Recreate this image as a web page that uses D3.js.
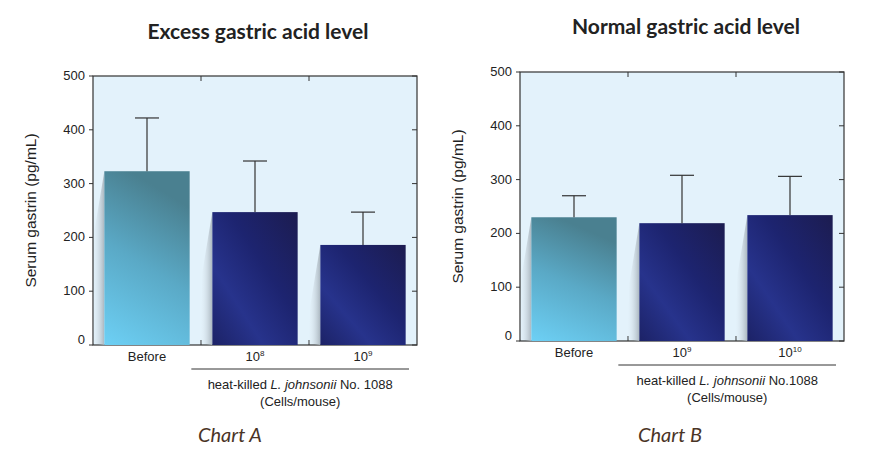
<!DOCTYPE html>
<html><head><meta charset="utf-8">
<script src="https://cdn.jsdelivr.net/npm/d3@7"></script>
<style>body{margin:0;background:#fff}svg{display:block}</style>
</head><body>
<svg id="c" width="876" height="468"></svg>
<script>
const yTicks = [0,100,200,300,400,500];
const catsA = ["Before","10^8","10^9"];
const meanA = [323,247,186];
const errA = [422,342,247];
const catsB = ["Before","10^9","10^10"];
const meanB = [230,219,234];
const errB = [270,308,306];
const titles = ["Excess gastric acid level","Normal gastric acid level"];
const chartLabels = ["Chart A","Chart B"];

const svg = d3.select("#c");
const defs = svg.append("defs");
const g1 = defs.append("linearGradient").attr("id","gBefore").attr("x1",0).attr("y1",1).attr("x2",0.3).attr("y2",0);
g1.append("stop").attr("offset",0).attr("stop-color","#6dd0f5");
g1.append("stop").attr("offset",0.55).attr("stop-color","#5aa9c6");
g1.append("stop").attr("offset",1).attr("stop-color","#4a8090");
const g2 = defs.append("linearGradient").attr("id","gDark").attr("x1",0).attr("y1",1).attr("x2",1).attr("y2",0);
g2.append("stop").attr("offset",0).attr("stop-color","#1c2266");
g2.append("stop").attr("offset",0.3).attr("stop-color","#27338c");
g2.append("stop").attr("offset",0.6).attr("stop-color","#1d2470");
g2.append("stop").attr("offset",1).attr("stop-color","#1c1c50");
const g3 = defs.append("linearGradient").attr("id","gShadow").attr("x1",0).attr("y1",0).attr("x2",1).attr("y2",0);
g3.append("stop").attr("offset",0).attr("stop-color","#dfeaf2").attr("stop-opacity",0);
g3.append("stop").attr("offset",1).attr("stop-color","#aab6bf").attr("stop-opacity",1);

const font = "'Liberation Sans Narrow','Liberation Sans',Arial,sans-serif";

function chart(o){
  const {x0,x1,y0,y1,cats,mean,err,title,titleX,titleY,lab,labX,scale} = o;
  const g = svg.append("g");
  const x = d3.scaleBand().domain(cats).range([x0,x1]).paddingInner(0.21).paddingOuter(0.105);
  const xb = d3.scaleBand().domain(cats).range([x0,x1]);
  const y = d3.scaleLinear().domain([0,500]).range([y1,y0]);
  g.append("rect").attr("x",x0).attr("y",y0).attr("width",x1-x0).attr("height",y1-y0)
    .attr("fill","#e3f2fb").attr("stroke","#333").attr("stroke-width",1.2);
  yTicks.forEach(t=>{
    g.append("line").attr("x1",x1-5).attr("x2",x1).attr("y1",y(t)).attr("y2",y(t)).attr("stroke","#333");
    g.append("line").attr("x1",x0-4).attr("x2",x0).attr("y1",y(t)).attr("y2",y(t)).attr("stroke","#333");
    g.append("text").attr("x",x0-8).attr("y",y(t)+ (t===0?-1:4)).attr("text-anchor","end")
      .attr("font-family",font).attr("font-size",13).attr("fill","#222").text(t);
  });
  cats.slice(1).forEach(c=>{
    const bx = xb(c);
    g.append("line").attr("x1",bx).attr("x2",bx).attr("y1",y0).attr("y2",y0+5).attr("stroke","#333");
    g.append("line").attr("x1",bx).attr("x2",bx).attr("y1",y1).attr("y2",y1-5).attr("stroke","#333");
  });
  cats.forEach((c,i)=>{
    const bx = x(c), bw = x.bandwidth();
    g.append("path").attr("d",`M${bx},${y(mean[i])} L${bx-10},${y(mean[i])+60} L${bx-12},${y(0)-2} L${bx},${y(0)} Z`)
      .attr("fill","url(#gShadow)");
    g.append("rect").attr("x",bx).attr("y",y(mean[i])).attr("width",bw).attr("height",y(0)-y(mean[i]))
      .attr("fill", i===0?"url(#gBefore)":"url(#gDark)");
    const cx = bx+bw/2;
    g.append("line").attr("x1",cx).attr("x2",cx).attr("y1",y(err[i])).attr("y2",y(mean[i])).attr("stroke","#333").attr("stroke-width",1.2);
    g.append("line").attr("x1",cx-12).attr("x2",cx+12).attr("y1",y(err[i])).attr("y2",y(err[i])).attr("stroke","#333").attr("stroke-width",1.2);
    const t = g.append("text").attr("x",cx).attr("y",y1+16).attr("text-anchor","middle")
      .attr("font-family",font).attr("font-size",13).attr("fill","#222");
    if(c.includes("^")){ const [b,e]=c.split("^"); t.append("tspan").text(b); t.append("tspan").attr("dy",-5).attr("font-size",8).text(e);}
    else t.text(c);
  });
  const lx0 = x(cats[1])-21, lx1 = x1-8;
  g.append("line").attr("x1",lx0).attr("x2",lx1).attr("y1",y1+24).attr("y2",y1+24).attr("stroke","#333");
  const mid = (lx0+lx1)/2;
  const t2 = g.append("text").attr("x",mid).attr("y",y1+44).attr("text-anchor","middle")
    .attr("font-family",font).attr("font-size",13).attr("fill","#222");
  t2.append("tspan").text("heat-killed ");
  t2.append("tspan").attr("font-style","italic").text("L. johnsonii");
  t2.append("tspan").text(scale);
  g.append("text").attr("x",mid).attr("y",y1+61).attr("text-anchor","middle")
    .attr("font-family",font).attr("font-size",13).attr("fill","#222").text("(Cells/mouse)");
  g.append("text").attr("transform",`translate(${x0-57},${(y0+y1)/2}) rotate(-90)`).attr("text-anchor","middle")
    .attr("font-family","'Liberation Sans',Arial,sans-serif").attr("font-size",15.5).attr("fill","#222").text("Serum gastrin (pg/mL)");
  g.append("text").attr("x",titleX).attr("y",titleY).attr("text-anchor","middle")
    .attr("font-family","Lato,sans-serif").attr("font-weight","bold").attr("font-size",21).attr("fill","#222").text(title);
  g.append("text").attr("x",labX).attr("y",442).attr("text-anchor","middle")
    .attr("font-family","Lato,sans-serif").attr("font-style","italic").attr("font-size",20).attr("fill","#4a3426").text(lab);
}
chart({x0:93,x1:417,y0:76,y1:345,cats:catsA,mean:meanA,err:errA,title:titles[0],titleX:258,titleY:39,lab:chartLabels[0],labX:230,scale:" No. 1088"});
chart({x0:520,x1:844,y0:72,y1:341,cats:catsB,mean:meanB,err:errB,title:titles[1],titleX:686,titleY:34,lab:chartLabels[1],labX:670,scale:" No.1088"});
</script>
</body></html>
